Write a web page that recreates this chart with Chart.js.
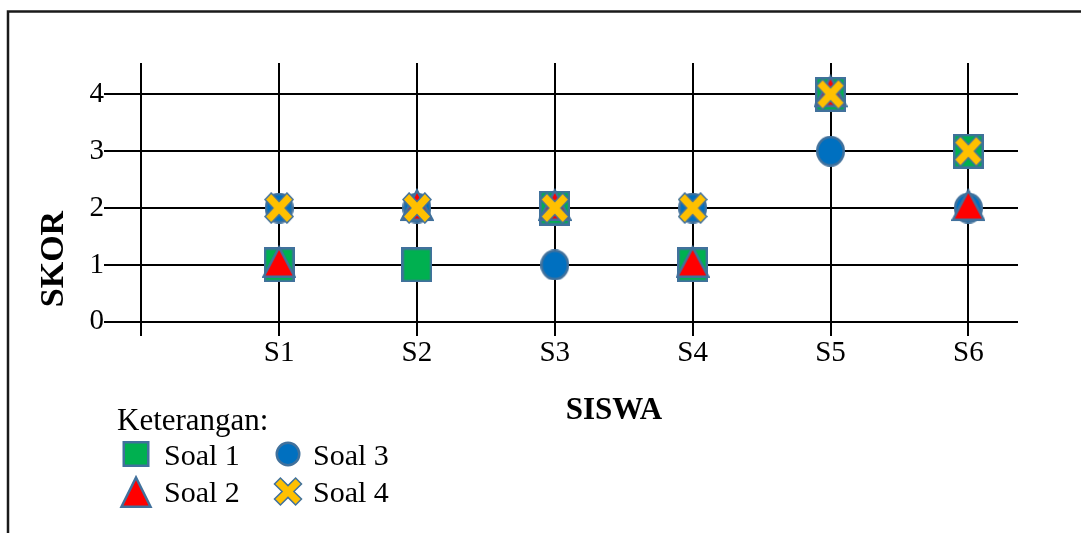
<!DOCTYPE html>
<html>
<head>
<meta charset="utf-8">
<script src="https://cdn.jsdelivr.net/npm/chart.js@4.4.1/dist/chart.umd.min.js"></script>
<style>
  html, body { margin: 0; padding: 0; background: #fff; }
  #wrap { position: relative; width: 1081px; height: 533px; }
</style>
</head>
<body>
<div id="wrap"><canvas id="skorChart"></canvas></div>
<script>
// data
const siswa = ['S1', 'S2', 'S3', 'S4', 'S5', 'S6'];
const soal1 = [1, 1, 2, 1, 4, 3];
const soal2 = [1, 2, 2, 1, 4, 2];
const soal3 = [2, 2, 1, 2, 3, 2];
const soal4 = [2, 2, 2, 2, 4, 3];
const skorTicks = [0, 1, 2, 3, 4];
const seriesNames = ['Soal 1', 'Soal 2', 'Soal 3', 'Soal 4'];

const edge = '#41719C';
const serif = '"Liberation Serif", "Times New Roman", serif';

// draws an Excel-like marker filling the box (x0, y0, w, h)
function drawMarker(g, kind, x0, y0, w, h) {
    g.save();
    g.strokeStyle = edge;
    g.lineJoin = 'miter';
    if (kind == 'square') {
        g.lineWidth = 2.5;
        g.fillStyle = '#00B050';
        g.fillRect(x0 + 1.25, y0 + 1.25, w - 2.5, h - 2.5);
        g.strokeRect(x0 + 1.25, y0 + 1.25, w - 2.5, h - 2.5);
    } else if (kind == 'triangle') {
        g.lineWidth = 2.5;
        g.fillStyle = '#FF0000';
        g.beginPath();
        g.moveTo(x0 + w / 2, y0 + 2.5);
        g.lineTo(x0 + w - 1.5, y0 + h - 1.25);
        g.lineTo(x0 + 1.5, y0 + h - 1.25);
        g.closePath();
        g.fill();
        g.stroke();
    } else if (kind == 'circle') {
        g.lineWidth = 2.5;
        g.fillStyle = '#0070C0';
        g.beginPath();
        g.ellipse(x0 + w / 2, y0 + h / 2, w / 2 - 1.25, h / 2 - 1.25, 0, 0, Math.PI * 2);
        g.fill();
        g.stroke();
    } else {
        // thick X
        g.lineWidth = 1.5;
        g.fillStyle = '#FFC000';
        const t = 0.28;
        const plus = [[-t, -1], [t, -1], [t, -t], [1, -t], [1, t], [t, t], [t, 1], [-t, 1], [-t, t], [-1, t], [-1, -t], [-t, -t]];
        const ext = (1 + t) / Math.SQRT2;
        const sx = (w / 2 - 1) / ext;
        const sy = (h / 2 - 1) / ext;
        const cx = x0 + w / 2, cy = y0 + h / 2;
        g.beginPath();
        plus.forEach((p, i) => {
            const rx = (p[0] - p[1]) / Math.SQRT2;
            const ry = (p[0] + p[1]) / Math.SQRT2;
            if (i == 0) g.moveTo(cx + rx * sx, cy + ry * sy);
            else g.lineTo(cx + rx * sx, cy + ry * sy);
        });
        g.closePath();
        g.fill();
        g.stroke();
    }
    g.restore();
}

function makeMarker(kind, cw, ch, bx, by, bw, bh) {
    const c = document.createElement('canvas');
    c.width = cw;
    c.height = ch;
    drawMarker(c.getContext('2d'), kind, bx, by, bw, bh);
    return c;
}

const squareMark = makeMarker('square', 31, 35, 0, 0, 31, 35);
const triangleMark = makeMarker('triangle', 34, 40, 0, 0, 34, 33);
const circleMark = makeMarker('circle', 29, 31, 0, 0, 29, 31);
const crossMark = makeMarker('cross', 30, 32, 0, 0, 30, 32);

function toPoints(values) {
    return values.map((v, i) => ({ x: i + 1, y: v }));
}

const frameAndTitles = {
    id: 'frameAndTitles',
    beforeDraw(chart) {
        const ctx = chart.ctx;
        ctx.save();
        ctx.fillStyle = '#fff';
        ctx.fillRect(0, 0, chart.width, chart.height);
        ctx.strokeStyle = '#1a1a1a';
        ctx.lineWidth = 2.5;
        ctx.strokeRect(8, 11.5, 1200, 700);
        ctx.restore();
    },
    afterDraw(chart) {
        const ctx = chart.ctx;
        ctx.save();
        ctx.fillStyle = '#000';

        ctx.font = 'bold 31px ' + serif;
        ctx.textAlign = 'center';
        ctx.textBaseline = 'alphabetic';
        ctx.fillText('SISWA', 614, 419);

        ctx.save();
        ctx.translate(63, 259);
        ctx.rotate(-Math.PI / 2);
        ctx.font = 'bold 34px ' + serif;
        ctx.fillText('SKOR', 0, 0);
        ctx.restore();

        // legend "Keterangan"
        ctx.textAlign = 'left';
        ctx.font = '31px ' + serif;
        ctx.fillText('Keterangan:', 117, 430);

        ctx.font = '30px ' + serif;
        const kinds = ['square', 'triangle', 'circle', 'cross'];
        const sizes = [[27, 26], [32, 33], [25, 25], [29, 29]];
        const colX = [136, 288];
        const rowY = [454, 491.5];
        const textX = [164, 313];
        const textY = [465, 502];
        kinds.forEach((k, i) => {
            const col = Math.floor(i / 2);
            const row = i % 2;
            const w = sizes[i][0], h = sizes[i][1];
            drawMarker(ctx, k, colX[col] - w / 2, rowY[row] - h / 2, w, h);
            ctx.fillStyle = '#000';
            ctx.fillText(seriesNames[i], textX[col], textY[row]);
        });
        ctx.restore();
    }
};

const ctx = document.getElementById('skorChart').getContext('2d');

// draw order as in the original: squares and circles under triangles, X on top
const config = {
    type: 'scatter',
    data: {
        datasets: [
            { label: seriesNames[0], data: toPoints(soal1), pointStyle: squareMark, pointRadius: 15, order: 4 },
            { label: seriesNames[1], data: toPoints(soal2), pointStyle: triangleMark, pointRadius: 15, order: 2 },
            { label: seriesNames[2], data: toPoints(soal3), pointStyle: circleMark, pointRadius: 15, order: 3 },
            { label: seriesNames[3], data: toPoints(soal4), pointStyle: crossMark, pointRadius: 15, order: 1 },
        ],
    },
    options: {
        responsive: true,
        maintainAspectRatio: false,
        animation: false,
        events: [],
        layout: {
            padding: { left: 0, top: 63, right: 63, bottom: 0 },
        },
        plugins: {
            legend: { display: false },
            tooltip: { enabled: false },
        },
        scales: {
            x: {
                type: 'linear',
                min: -0.27,
                max: 6.36,
                border: { display: false },
                grid: { color: '#000', lineWidth: 2, drawTicks: false },
                afterBuildTicks(scale) {
                    scale.ticks = [0].concat(siswa.map((s, i) => i + 1)).map(v => ({ value: v }));
                },
                afterFit(scale) {
                    scale.height = 197;
                },
                ticks: {
                    autoSkip: false,
                    maxRotation: 0,
                    padding: 0,
                    color: '#000',
                    font: { family: serif, size: 29 },
                    callback: (v) => (v >= 1 ? siswa[v - 1] : ''),
                },
            },
            y: {
                min: -0.25,
                max: 4.55,
                border: { display: false },
                grid: { color: '#000', lineWidth: 2, drawTicks: false },
                afterBuildTicks(scale) {
                    scale.ticks = skorTicks.map(v => ({ value: v }));
                },
                afterFit(scale) {
                    scale.width = 104;
                },
                ticks: {
                    padding: 0,
                    color: '#000',
                    font: { family: serif, size: 29 },
                },
            },
        },
    },
    plugins: [frameAndTitles],
};

const skorChart = new Chart(ctx, config);
</script>
</body>
</html>
